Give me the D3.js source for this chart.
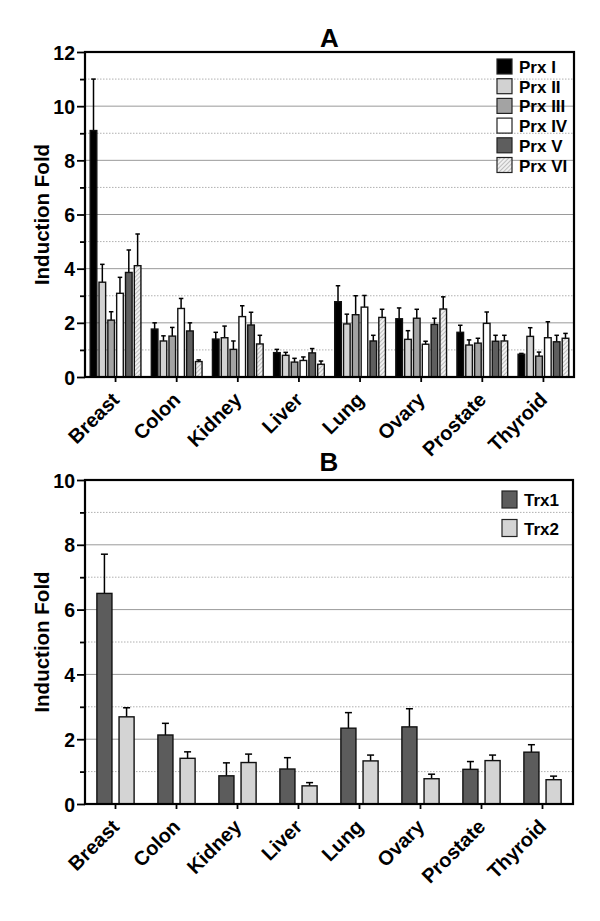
<!DOCTYPE html>
<html><head><meta charset="utf-8">
<script src="https://cdn.jsdelivr.net/npm/d3@7"></script>
<style>body{margin:0;background:#fff}svg{display:block}text{font-family:"Liberation Sans",Arial,sans-serif;font-weight:bold}</style>
</head><body>
<svg id="c" width="600" height="921"></svg>
<script>
const categories = ["Breast","Colon","Kidney","Liver","Lung","Ovary","Prostate","Thyroid"];
const prxSeries = ["Prx I","Prx II","Prx III","Prx IV","Prx V","Prx VI"];
// values per series (one per category) and the upper end of error bar
const prxI   = [9.1,1.77,1.40,0.90,2.78,2.15,1.65,0.84];
const prxIerr= [11.0,2.0,1.65,1.02,3.37,2.55,1.91,0.87];
const prxII  = [3.5,1.33,1.45,0.80,1.96,1.39,1.18,1.50];
const prxIIerr=[4.16,1.52,1.88,0.91,2.32,1.71,1.37,1.82];
const prxIII = [2.1,1.51,1.02,0.55,2.30,2.17,1.25,0.77];
const prxIIIerr=[2.41,1.83,1.33,0.69,3.0,2.50,1.43,0.92];
const prxIV  = [3.09,2.53,2.23,0.61,2.58,1.21,1.98,1.45];
const prxIVerr=[3.68,2.90,2.63,0.74,3.01,1.32,2.40,2.04];
const prxV   = [3.86,1.70,1.92,0.89,1.33,1.94,1.32,1.30];
const prxVerr= [4.69,2.0,2.39,1.05,1.54,2.17,1.54,1.54];
const prxVI  = [4.11,0.57,1.22,0.47,2.20,2.51,1.33,1.43];
const prxVIerr=[5.28,0.63,1.54,0.59,2.50,2.96,1.54,1.61];
const prxYTicks = [0,2,4,6,8,10,12];

const trxSeries = ["Trx1","Trx2"];
const trx1    = [6.50,2.13,0.87,1.08,2.34,2.38,1.07,1.60];
const trx1err = [7.71,2.49,1.27,1.43,2.82,2.94,1.31,1.83];
const trx2    = [2.69,1.41,1.28,0.56,1.33,0.78,1.34,0.75];
const trx2err = [2.97,1.61,1.54,0.66,1.51,0.92,1.51,0.86];
const trxYTicks = [0,2,4,6,8,10];

const svg = d3.select("#c");
const defs = svg.append("defs");
const pat = defs.append("pattern").attr("id","hatch").attr("patternUnits","userSpaceOnUse")
  .attr("width",3).attr("height",3).attr("patternTransform","rotate(45)");
pat.append("rect").attr("width",3).attr("height",3).attr("fill","#f0f0f0");
pat.append("line").attr("x1",0).attr("y1",0).attr("x2",0).attr("y2",3).attr("stroke","#8a8a8a").attr("stroke-width",1);

function panel(cfg){
  const {x0,x1,y0,y1,maxY,ticks,series,vals,errs,fills,title,titleY,pIn,pOut,subPad,cap,legX,legY,legStep,legH} = cfg;
  const g = svg.append("g");
  const x = d3.scaleBand().domain(categories).range([x0,x1]).paddingInner(pIn).paddingOuter(pOut);
  const xs = d3.scaleBand().domain(series).range([0,x.bandwidth()]).paddingInner(subPad);
  const y = d3.scaleLinear().domain([0,maxY]).range([y1,y0]);
  // gridlines
  const all = d3.range(1,maxY);
  g.selectAll(".grid").data(all).join("line")
    .attr("x1",x0).attr("x2",x1).attr("y1",d=>y(d)).attr("y2",d=>y(d))
    .attr("stroke",d=>d%2===0?"#9a9a9a":"#b0b0b0")
    .attr("stroke-width",1)
    .attr("stroke-dasharray",d=>d%2===0?null:"1.5,1.5");
  // legend
  const lg = g.append("g");
  series.forEach((s,i)=>{
    lg.append("rect").attr("x",legX).attr("y",legY+i*legStep).attr("width",15).attr("height",legH)
      .attr("fill",fills[i]).attr("stroke","#222").attr("stroke-width",1.2);
    lg.append("text").attr("x",legX+22).attr("y",legY+i*legStep+legH/2+6.5).attr("font-size",17).text(s);
  });
  // bars
  series.forEach((s,i)=>{
    const gg = g.append("g");
    categories.forEach((c,j)=>{
      const bx = x(c)+xs(s), bw = xs.bandwidth(), cx = bx+bw/2;
      gg.append("line").attr("x1",cx).attr("x2",cx).attr("y1",y(vals[i][j])).attr("y2",y(errs[i][j]))
        .attr("stroke","#000").attr("stroke-width",1.5);
      gg.append("line").attr("x1",cx-cap/2).attr("x2",cx+cap/2).attr("y1",y(errs[i][j])).attr("y2",y(errs[i][j]))
        .attr("stroke","#000").attr("stroke-width",1.5);
      gg.append("rect").attr("x",bx).attr("y",y(vals[i][j])).attr("width",bw).attr("height",y(0)-y(vals[i][j]))
        .attr("fill",fills[i]).attr("stroke","#111").attr("stroke-width",1.4);
    });
  });
  // frame
  g.append("rect").attr("x",x0).attr("y",y0).attr("width",x1-x0).attr("height",y1-y0)
    .attr("fill","none").attr("stroke","#000").attr("stroke-width",2.2);
  // y axis
  const yAx = g.append("g").attr("transform",`translate(${x0},0)`)
    .call(d3.axisLeft(y).tickValues(d3.range(0,maxY+1)).tickSize(0).tickFormat(""));
  yAx.select(".domain").remove();
  yAx.selectAll(".tick").append("line").attr("x1",d=>d%2===0?-8:-5).attr("x2",0).attr("stroke","#000").attr("stroke-width",1.8);
  yAx.selectAll(".tick").filter(d=>ticks.includes(d)).append("text").attr("x",-10).attr("dy","0.36em")
    .attr("text-anchor","end").attr("fill","#000").attr("font-size",19.5).text(d=>d);
  // x axis
  const xAx = g.append("g").attr("transform",`translate(0,${y1})`)
    .call(d3.axisBottom(x).tickSize(0).tickFormat(""));
  xAx.select(".domain").remove();
  xAx.selectAll(".tick").append("line").attr("y1",0).attr("y2",5).attr("stroke","#000").attr("stroke-width",1.8);
  xAx.selectAll(".tick").append("text").attr("transform","translate(5,24) rotate(-45)")
    .attr("text-anchor","end").attr("fill","#000").attr("font-size",20).text(d=>d);
  // titles
  g.append("text").attr("x",(x0+x1)/2).attr("y",titleY).attr("text-anchor","middle").attr("font-size",26).text(title);
  g.append("text").attr("transform",`translate(49,${(y0+y1)/2}) rotate(-90)`).attr("text-anchor","middle")
    .attr("font-size",20.5).text("Induction Fold");
}

panel({x0:85,x1:574,y0:52,y1:377,maxY:12,ticks:prxYTicks,series:prxSeries,
  vals:[prxI,prxII,prxIII,prxIV,prxV,prxVI],errs:[prxIerr,prxIIerr,prxIIIerr,prxIVerr,prxVerr,prxVIerr],
  fills:["#000","#d2d2d2","#a3a3a3","#fff","#5e5e5e","url(#hatch)"],title:"A",titleY:47,
  pIn:0.17,pOut:0.085,subPad:0.25,cap:4.5,legX:497,legY:59,legStep:19.7,legH:15});

panel({x0:85,x1:573,y0:480,y1:804,maxY:10,ticks:trxYTicks,series:trxSeries,
  vals:[trx1,trx2],errs:[trx1err,trx2err],
  fills:["#5c5c5c","#d4d4d4"],title:"B",titleY:471,
  pIn:0.39,pOut:0.195,subPad:0.32,cap:7,legX:502,legY:491,legStep:28.5,legH:17});
</script>
</body></html>
